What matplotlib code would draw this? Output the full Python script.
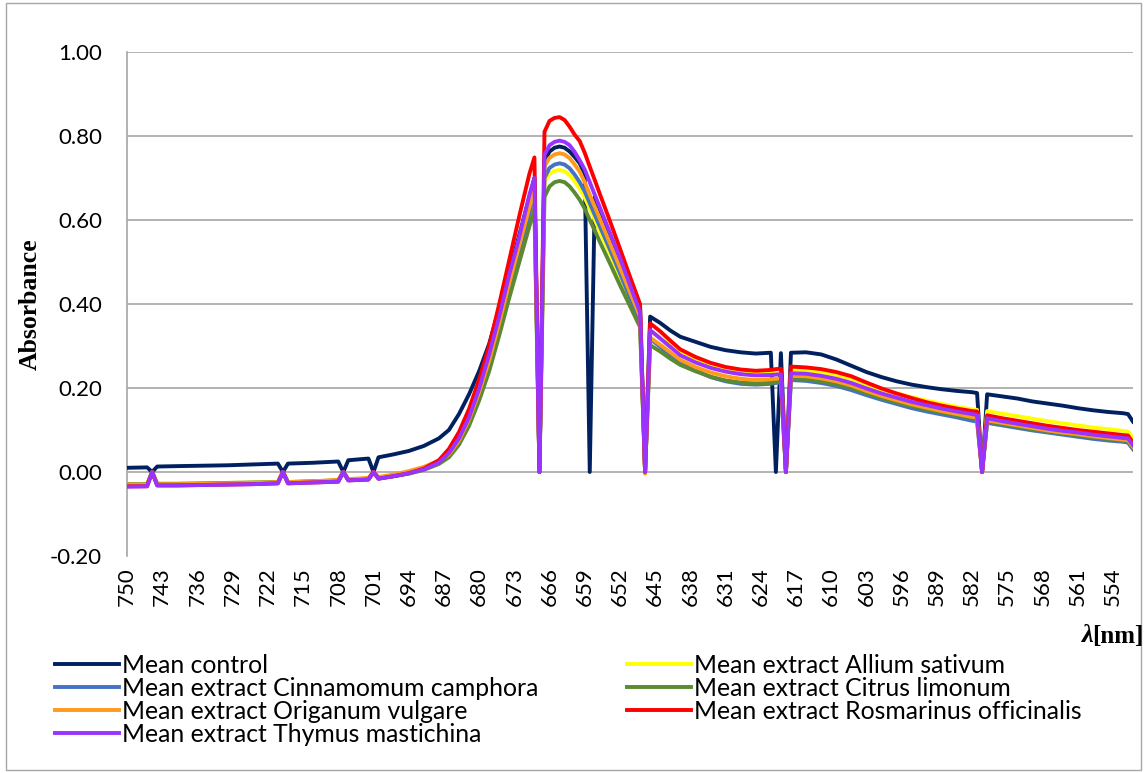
import matplotlib.pyplot as plt
from matplotlib.patches import Rectangle

# wavelengths (nm), descending like the original axis
wavelength = [750, 746, 745, 744, 740, 735, 730, 725, 720, 719,
              718, 713, 708, 707, 706, 702, 701, 700, 697, 694,
              691, 688, 686, 684, 682, 680, 678, 676, 674, 672,
              670, 669, 668, 667, 666, 665, 664, 663, 662, 661,
              660, 659, 658, 657, 656, 654, 652, 650, 648, 647,
              646, 644, 642, 640, 637, 634, 631, 628, 625, 622,
              621, 620, 619, 618, 615, 612, 609, 606, 603, 600,
              597, 594, 591, 588, 585, 582, 581, 580, 579, 576,
              573, 570, 567, 564, 561, 558, 555, 552, 551, 550]

control = [0.010, 0.011, 0.0, 0.013, 0.014, 0.015, 0.016, 0.018, 0.020, 0.0,
           0.020, 0.022, 0.025, 0.0, 0.028, 0.032, 0.0, 0.035, 0.042, 0.050,
           0.062, 0.080, 0.100, 0.138, 0.185, 0.240, 0.305, 0.390, 0.475, 0.565,
           0.655, 0.700, 0.0, 0.740, 0.763, 0.772, 0.775, 0.772, 0.763, 0.750,
           0.735, 0.710, 0.0, 0.655, 0.625, 0.565, 0.505, 0.450, 0.395, 0.0,
           0.370, 0.355, 0.337, 0.322, 0.310, 0.298, 0.290, 0.285, 0.282, 0.284,
           0.0, 0.283, 0.0, 0.284, 0.285, 0.280, 0.268, 0.253, 0.238, 0.226,
           0.216, 0.208, 0.202, 0.197, 0.193, 0.190, 0.188, 0.0, 0.185, 0.180,
           0.175, 0.168, 0.163, 0.158, 0.152, 0.147, 0.143, 0.140, 0.138, 0.120]

allium = [-0.029, -0.029, 0.0, -0.028, -0.028, -0.027, -0.026, -0.025, -0.024, 0.0,
          -0.024, -0.022, -0.020, 0.0, -0.018, -0.016, 0.0, -0.014, -0.009, -0.002,
          0.008, 0.024, 0.040, 0.070, 0.117, 0.178, 0.250, 0.335, 0.430, 0.515,
          0.600, 0.640, 0.0, 0.690, 0.710, 0.717, 0.719, 0.716, 0.707, 0.692,
          0.675, 0.653, 0.627, 0.600, 0.573, 0.520, 0.465, 0.410, 0.355, 0.0,
          0.335, 0.320, 0.302, 0.283, 0.266, 0.253, 0.244, 0.238, 0.236, 0.237,
          0.238, 0.239, 0.0, 0.243, 0.242, 0.238, 0.231, 0.222, 0.208, 0.195,
          0.187, 0.178, 0.170, 0.162, 0.155, 0.149, 0.148, 0.0, 0.145, 0.139,
          0.133, 0.127, 0.121, 0.116, 0.111, 0.106, 0.102, 0.098, 0.096, 0.080]

cinnamomum = [-0.031, -0.031, 0.0, -0.030, -0.030, -0.029, -0.028, -0.027, -0.025, 0.0,
              -0.025, -0.023, -0.021, 0.0, -0.019, -0.017, 0.0, -0.015, -0.010, -0.003,
              0.007, 0.023, 0.040, 0.072, 0.120, 0.183, 0.258, 0.345, 0.440, 0.525,
              0.615, 0.655, 0.0, 0.700, 0.724, 0.732, 0.735, 0.732, 0.723, 0.708,
              0.690, 0.668, 0.640, 0.612, 0.585, 0.530, 0.473, 0.415, 0.360, 0.0,
              0.317, 0.298, 0.278, 0.260, 0.242, 0.226, 0.216, 0.210, 0.208, 0.210,
              0.212, 0.213, 0.0, 0.219, 0.217, 0.212, 0.205, 0.195, 0.183, 0.172,
              0.162, 0.152, 0.144, 0.137, 0.130, 0.122, 0.120, 0.0, 0.117, 0.111,
              0.105, 0.099, 0.094, 0.089, 0.084, 0.079, 0.075, 0.072, 0.070, 0.054]

citrus = [-0.029, -0.029, 0.0, -0.028, -0.028, -0.027, -0.026, -0.025, -0.024, 0.0,
          -0.024, -0.022, -0.020, 0.0, -0.018, -0.016, 0.0, -0.014, -0.010, -0.004,
          0.005, 0.019, 0.035, 0.065, 0.110, 0.170, 0.240, 0.325, 0.415, 0.500,
          0.585, 0.625, 0.0, 0.655, 0.680, 0.690, 0.693, 0.690, 0.680, 0.665,
          0.648, 0.627, 0.600, 0.575, 0.548, 0.497, 0.445, 0.395, 0.345, 0.0,
          0.302, 0.287, 0.270, 0.255, 0.240, 0.227, 0.218, 0.213, 0.211, 0.212,
          0.214, 0.215, 0.0, 0.223, 0.221, 0.216, 0.209, 0.200, 0.188, 0.176,
          0.166, 0.157, 0.149, 0.142, 0.135, 0.128, 0.127, 0.0, 0.120, 0.114,
          0.108, 0.102, 0.097, 0.092, 0.087, 0.083, 0.079, 0.075, 0.074, 0.058]

origanum = [-0.030, -0.030, 0.0, -0.029, -0.029, -0.028, -0.027, -0.026, -0.024, 0.0,
            -0.024, -0.022, -0.019, 0.0, -0.017, -0.014, 0.0, -0.012, -0.006, 0.002,
            0.012, 0.027, 0.042, 0.075, 0.125, 0.190, 0.265, 0.355, 0.450, 0.540,
            0.630, 0.675, 0.0, 0.728, 0.748, 0.756, 0.759, 0.756, 0.747, 0.732,
            0.715, 0.690, 0.660, 0.632, 0.603, 0.545, 0.487, 0.428, 0.370, -0.004,
            0.320, 0.303, 0.285, 0.267, 0.250, 0.237, 0.228, 0.222, 0.219, 0.221,
            0.222, 0.223, 0.0, 0.229, 0.228, 0.223, 0.216, 0.206, 0.193, 0.181,
            0.171, 0.161, 0.153, 0.145, 0.138, 0.131, 0.130, 0.0, 0.123, 0.117,
            0.111, 0.105, 0.099, 0.094, 0.090, 0.085, 0.081, 0.077, 0.076, 0.060]

rosmarinus = [-0.034, -0.034, 0.0, -0.032, -0.032, -0.031, -0.030, -0.029, -0.027, 0.0,
              -0.027, -0.025, -0.023, 0.0, -0.020, -0.018, 0.0, -0.016, -0.010, -0.003,
              0.008, 0.028, 0.055, 0.095, 0.150, 0.220, 0.300, 0.400, 0.505, 0.610,
              0.710, 0.749, 0.0, 0.810, 0.836, 0.843, 0.845, 0.838, 0.822, 0.803,
              0.788, 0.760, 0.727, 0.695, 0.662, 0.598, 0.532, 0.465, 0.400, 0.0,
              0.354, 0.335, 0.313, 0.292, 0.274, 0.260, 0.250, 0.244, 0.241, 0.243,
              0.245, 0.246, 0.0, 0.251, 0.249, 0.245, 0.238, 0.228, 0.213, 0.199,
              0.187, 0.176, 0.166, 0.158, 0.151, 0.145, 0.144, 0.0, 0.135, 0.128,
              0.122, 0.116, 0.110, 0.105, 0.100, 0.096, 0.092, 0.088, 0.087, 0.070]

thymus = [-0.035, -0.034, 0.0, -0.032, -0.032, -0.031, -0.030, -0.029, -0.027, 0.0,
          -0.027, -0.025, -0.023, 0.0, -0.020, -0.018, 0.0, -0.016, -0.010, -0.003,
          0.006, 0.022, 0.045, 0.080, 0.130, 0.198, 0.280, 0.370, 0.470, 0.560,
          0.660, 0.700, 0.0, 0.755, 0.778, 0.786, 0.789, 0.786, 0.778, 0.762,
          0.742, 0.720, 0.690, 0.660, 0.630, 0.570, 0.510, 0.445, 0.380, 0.0,
          0.338, 0.318, 0.298, 0.278, 0.261, 0.248, 0.239, 0.233, 0.230, 0.231,
          0.232, 0.233, 0.0, 0.235, 0.234, 0.229, 0.222, 0.212, 0.199, 0.187,
          0.177, 0.167, 0.159, 0.151, 0.144, 0.138, 0.136, 0.0, 0.128, 0.121,
          0.115, 0.109, 0.103, 0.098, 0.094, 0.089, 0.085, 0.081, 0.080, 0.064]

series = [
    ('Mean control', control, '#002060'),
    ('Mean extract Allium sativum', allium, '#FFFF00'),
    ('Mean extract Cinnamomum camphora', cinnamomum, '#4472C4'),
    ('Mean extract Citrus limonum', citrus, '#5B8A32'),
    ('Mean extract Origanum vulgare', origanum, '#FF9A1A'),
    ('Mean extract Rosmarinus officinalis', rosmarinus, '#FF0000'),
    ('Mean extract Thymus mastichina', thymus, '#9933FF'),
]

xticks = list(range(750, 553, -7))
yticks = [-0.2, 0.0, 0.2, 0.4, 0.6, 0.8, 1.0]

plt.rcParams['font.family'] = ['Lato', 'DejaVu Sans']

fig = plt.figure(figsize=(11.47, 7.73), dpi=100)
ax = fig.add_axes([127 / 1147, 1 - 556 / 773, 1006 / 1147, 504 / 773])

for yv in yticks[1:]:
    ax.axhline(yv, color='#A6A6A6', lw=1.2, zorder=1)

lines = {}
for name, vals, col in series:
    ln, = ax.plot(wavelength, vals, color=col, lw=2.8, label=name, zorder=3)
    lines[name] = ln

ax.set_xlim(750, 550)
ax.set_ylim(-0.2, 1.0)
ax.set_xticks(xticks)
ax.set_xticklabels([str(t) for t in xticks], rotation=90)
ax.set_yticks(yticks)
ax.set_yticklabels([f'{t:.2f}' for t in yticks])
ax.tick_params(axis='both', length=0, labelsize=16)
ax.tick_params(axis='y', pad=18)
ax.tick_params(axis='x', pad=8)

for s in ['top', 'right', 'bottom']:
    ax.spines[s].set_visible(False)
ax.spines['left'].set_color('#A6A6A6')
ax.spines['left'].set_linewidth(1.2)

fig.text(30 / 1147, 1 - 304 / 773, 'Absorbance', rotation=90, ha='center', va='center',
         family='Liberation Serif', weight='bold', fontsize=18.5)
fig.text(1144 / 1147, 1 - 636 / 773, '[nm]', ha='right', va='center',
         family='Liberation Serif', weight='bold', fontsize=18)
fig.text(1094 / 1147, 1 - 636 / 773, 'λ', ha='right', va='center',
         family='Liberation Serif', weight='bold', style='italic', fontsize=19)

order = ['Mean control', 'Mean extract Cinnamomum camphora', 'Mean extract Origanum vulgare',
         'Mean extract Thymus mastichina', 'Mean extract Allium sativum',
         'Mean extract Citrus limonum', 'Mean extract Rosmarinus officinalis']
fig.legend([lines[n] for n in order], order, loc='upper left', ncol=2,
           bbox_to_anchor=(55 / 1147, 1 - 654 / 773), frameon=False, fontsize=17.8,
           handlelength=2.6, handletextpad=0.1, columnspacing=3.6, labelspacing=0.0,
           borderpad=0, borderaxespad=0)

fig.patches.append(Rectangle((6 / 1147, 3 / 773), 1135 / 1147, 767 / 773, transform=fig.transFigure,
                             fill=False, edgecolor='#A6A6A6', lw=1))

plt.savefig('out.png', dpi=100)
